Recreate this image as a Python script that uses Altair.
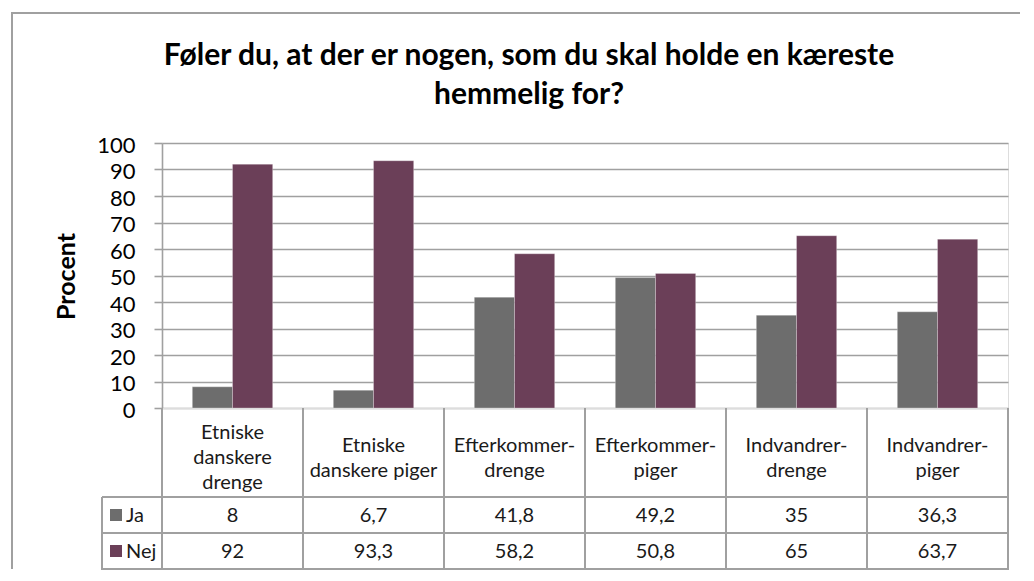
import altair as alt
import pandas as pd

# ---- data ----
categories = ["Etniske danskere drenge", "Etniske danskere piger", "Efterkommer-drenge",
              "Efterkommer-piger", "Indvandrer-drenge", "Indvandrer-piger"]
header_labels = ["Etniske\ndanskere\ndrenge", "Etniske\ndanskere piger", "Efterkommer-\ndrenge",
                 "Efterkommer-\npiger", "Indvandrer-\ndrenge", "Indvandrer-\npiger"]
series = ["Ja", "Nej"]
ja = [8, 6.7, 41.8, 49.2, 35, 36.3]
nej = [92, 93.3, 58.2, 50.8, 65, 63.7]
y_ticks = [0, 10, 20, 30, 40, 50, 60, 70, 80, 90, 100]
title_text = "Føler du, at der er nogen, som du skal holde en kæreste\nhemmelig for?"
y_title = "Procent"

colors = ["#6d6d6d", "#6b3f58"]
FONT = "Lato"
LINE = "#a0a0a0"
W = 846
H_PLOT = 265
H_HDR = 89
H_ROWS = 72

rows = []
for s, vals in zip(series, [ja, nej]):
    for c, v in zip(categories, vals):
        rows.append({"cat": c, "series": s, "value": v,
                     "label": f"{v:g}".replace(".", ",")})
df = pd.DataFrame(rows)
hdr = pd.DataFrame({"cat": categories, "hdr": header_labels,
                    "nlines": [h.count("\n") + 1 for h in header_labels]})
ser_df = pd.DataFrame({"series": series})
one = pd.DataFrame({"k": [0]})

color_scale = alt.Scale(domain=series, range=colors)

# ---- bar chart ----
bx = alt.X("cat:N", sort=categories,
           scale=alt.Scale(domain=categories, paddingInner=0.43, paddingOuter=0.215),
           axis=None)
bars = alt.Chart(df).mark_bar(stroke="#ffffff", strokeOpacity=0.35, strokeWidth=0.8).encode(
    x=bx,
    xOffset=alt.XOffset("series:N", sort=series),
    y=alt.Y("value:Q", scale=alt.Scale(domain=[0, 100], nice=False),
            axis=alt.Axis(values=y_ticks, title=y_title, grid=True,
                          gridColor=LINE, gridWidth=1.6,
                          domainColor=LINE, domainWidth=1.6,
                          tickColor=LINE, tickWidth=1.6, tickSize=8,
                          labelFont=FONT, labelFontSize=22, labelColor="#000000",
                          labelPadding=19, labelOffset=2,
                          titleFont=FONT, titleFontSize=25, titleFontWeight="bold",
                          titleColor="#000000", titleX=-88, titleY=133,
                          titleAngle=270, titleBaseline="alphabetic", titleAlign="center")),
    color=alt.Color("series:N", scale=color_scale, legend=None),
)

border_left = alt.Chart(one).mark_rule(color=LINE, strokeWidth=2).encode(
    x=alt.value(-150), y=alt.value(-131), y2=alt.value(H_PLOT + H_HDR + H_ROWS))
border_top = alt.Chart(one).mark_rule(color=LINE, strokeWidth=2).encode(
    x=alt.value(-151), x2=alt.value(858), y=alt.value(-130))
title = alt.Chart(pd.DataFrame({"t": [title_text]})).mark_text(
    font=FONT, fontSize=30, fontWeight="bold", color="#000000",
    lineBreak="\n", lineHeight=39, align="center", baseline="middle").encode(
    text="t:N", x=alt.value(367), y=alt.value(-87))

bar_chart = alt.layer(border_left, border_top, title, bars).properties(width=W, height=H_PLOT)

# ---- header row of data table ----
tx = alt.X("cat:N", sort=categories,
           scale=alt.Scale(domain=categories, paddingInner=0, paddingOuter=0), axis=None)
hdr_text3 = alt.Chart(hdr).transform_filter("datum.nlines == 3").mark_text(
    font=FONT, fontSize=20, color="#1a1a1a", lineBreak="\n", lineHeight=25,
    align="center", baseline="middle").encode(x=tx, text="hdr:N", y=alt.value(25))
hdr_text2 = alt.Chart(hdr).transform_filter("datum.nlines == 2").mark_text(
    font=FONT, fontSize=20, color="#1a1a1a", lineBreak="\n", lineHeight=25,
    align="center", baseline="middle").encode(x=tx, text="hdr:N", y=alt.value(38))
hdr_vlines = alt.Chart(hdr).mark_rule(color=LINE, strokeWidth=2).encode(
    x=alt.X("cat:N", sort=categories,
            scale=alt.Scale(domain=categories, paddingInner=0, paddingOuter=0),
            axis=None, bandPosition=0),
    y=alt.value(0), y2=alt.value(H_HDR))
hdr_right = alt.Chart(one).mark_rule(color=LINE, strokeWidth=2).encode(
    x=alt.value(W), y=alt.value(0), y2=alt.value(H_HDR))
header_chart = alt.layer(hdr_vlines, hdr_right, hdr_text3, hdr_text2).properties(
    width=W, height=H_HDR)

# ---- value rows of data table ----
ty = alt.Y("series:N", sort=series,
           scale=alt.Scale(domain=series, paddingInner=0, paddingOuter=0), axis=None)
val_text = alt.Chart(df).mark_text(font=FONT, fontSize=20, color="#1a1a1a",
                                   align="center", baseline="middle", dy=1).encode(
    x=tx, y=ty, text="label:N")
row_hlines = alt.Chart(ser_df).mark_rule(color=LINE, strokeWidth=2).encode(
    y=alt.Y("series:N", sort=series,
            scale=alt.Scale(domain=series, paddingInner=0, paddingOuter=0),
            axis=None, bandPosition=0),
    x=alt.value(-60), x2=alt.value(W))
row_bottom = alt.Chart(one).mark_rule(color=LINE, strokeWidth=2).encode(
    y=alt.value(H_ROWS), x=alt.value(-61), x2=alt.value(W + 1))
row_vlines = alt.Chart(hdr).mark_rule(color=LINE, strokeWidth=2).encode(
    x=alt.X("cat:N", sort=categories,
            scale=alt.Scale(domain=categories, paddingInner=0, paddingOuter=0),
            axis=None, bandPosition=0),
    y=alt.value(0), y2=alt.value(H_ROWS))
row_right = alt.Chart(one).mark_rule(color=LINE, strokeWidth=2).encode(
    x=alt.value(W), y=alt.value(0), y2=alt.value(H_ROWS))
row_left = alt.Chart(one).mark_rule(color=LINE, strokeWidth=2).encode(
    x=alt.value(-60), y=alt.value(0), y2=alt.value(H_ROWS))
swatch = alt.Chart(ser_df).mark_square(size=144, opacity=1).encode(
    x=alt.value(-46), y=ty,
    color=alt.Color("series:N", scale=color_scale, legend=None))
ser_text = alt.Chart(ser_df).mark_text(font=FONT, fontSize=20, color="#1a1a1a",
                                       align="left", baseline="middle", dy=1).encode(
    x=alt.value(-36), y=ty, text="series:N")
rows_chart = alt.layer(row_hlines, row_bottom, row_vlines, row_right, row_left,
                       swatch, ser_text, val_text).properties(width=W, height=H_ROWS)

chart = alt.vconcat(bar_chart, header_chart, rows_chart, spacing=0, bounds="flush").properties(
    padding={"left": 1, "top": 2, "right": 0, "bottom": 0}
).configure_view(stroke=None).configure(background="#ffffff")

chart.save("out.html", embed_options={"renderer": "svg", "actions": False})
